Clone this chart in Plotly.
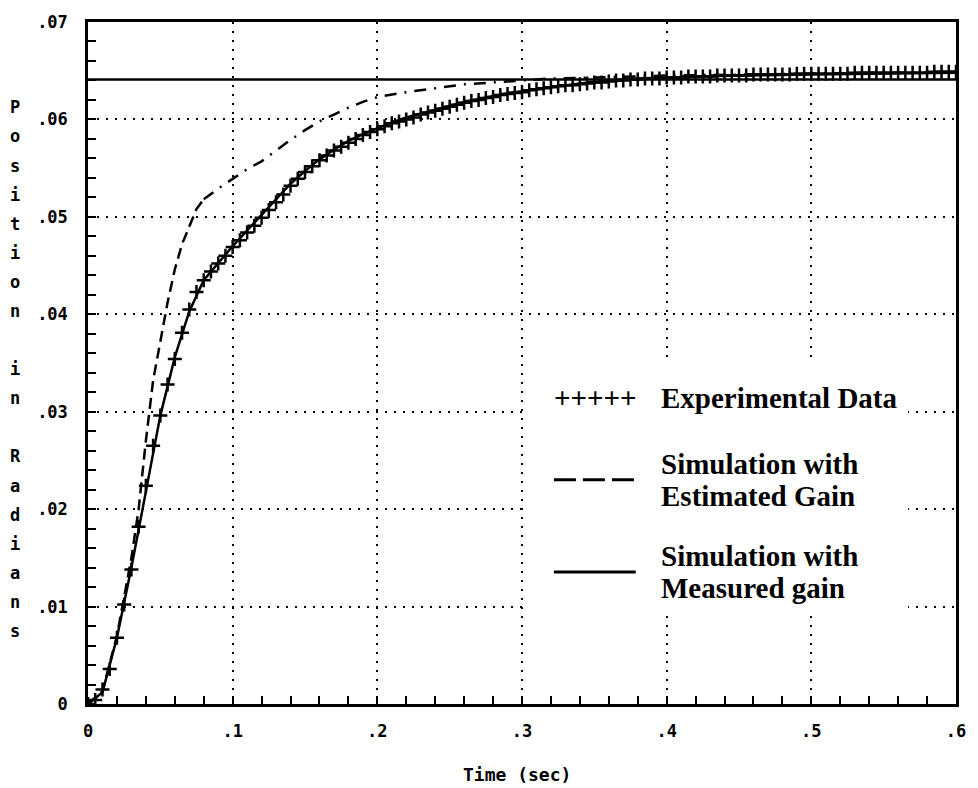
import plotly.graph_objects as go

# ---------------- data ----------------
exp_time = [
    0.000, 0.005, 0.010, 0.015, 0.020, 0.025, 0.030, 0.035, 0.040, 0.045,
    0.050, 0.055, 0.060, 0.065, 0.070, 0.075, 0.080, 0.085, 0.090, 0.095,
    0.100, 0.105, 0.110, 0.115, 0.120, 0.125, 0.130, 0.135, 0.140, 0.145,
    0.150, 0.155, 0.160, 0.165, 0.170, 0.175, 0.180, 0.185, 0.190, 0.195,
    0.200, 0.205, 0.210, 0.215, 0.220, 0.225, 0.230, 0.235, 0.240, 0.245,
    0.250, 0.255, 0.260, 0.265, 0.270, 0.275, 0.280, 0.285, 0.290, 0.295,
    0.300, 0.305, 0.310, 0.315, 0.320, 0.325, 0.330, 0.335, 0.340, 0.345,
    0.350, 0.355, 0.360, 0.365, 0.370, 0.375, 0.380, 0.385, 0.390, 0.395,
    0.400, 0.405, 0.410, 0.415, 0.420, 0.425, 0.430, 0.435, 0.440, 0.445,
    0.450, 0.455, 0.460, 0.465, 0.470, 0.475, 0.480, 0.485, 0.490, 0.495,
    0.500, 0.505, 0.510, 0.515, 0.520, 0.525, 0.530, 0.535, 0.540, 0.545,
    0.550, 0.555, 0.560, 0.565, 0.570, 0.575, 0.580, 0.585, 0.590, 0.595,
    0.600,
]
exp_position = [
    0.0000, 0.0004, 0.0015, 0.0036, 0.0068, 0.0102, 0.0138, 0.0182, 0.0224, 0.0265,
    0.0296, 0.0328, 0.0354, 0.0381, 0.0405, 0.0423, 0.0435, 0.0444, 0.0452, 0.0460,
    0.0469, 0.0476, 0.0484, 0.0491, 0.0499, 0.0507, 0.0515, 0.0523, 0.0532, 0.0539,
    0.0546, 0.0552, 0.0558, 0.0563, 0.0568, 0.0572, 0.0576, 0.0580, 0.0584, 0.0587,
    0.0590, 0.0593, 0.0596, 0.0598, 0.0600, 0.0602, 0.0605, 0.0607, 0.0609, 0.0611,
    0.0613, 0.0615, 0.0617, 0.0619, 0.0620, 0.0622, 0.0623, 0.0625, 0.0626, 0.0627,
    0.0628, 0.0630, 0.0631, 0.0632, 0.0633, 0.0634, 0.0635, 0.0635, 0.0636, 0.0637,
    0.0638, 0.0638, 0.0639, 0.0640, 0.0640, 0.0641, 0.0641, 0.0642, 0.0642, 0.0642,
    0.0643, 0.0643, 0.0643, 0.0644, 0.0644, 0.0644, 0.0644, 0.0645, 0.0645, 0.0645,
    0.0645, 0.0645, 0.0646, 0.0646, 0.0646, 0.0646, 0.0646, 0.0646, 0.0647, 0.0647,
    0.0647, 0.0647, 0.0647, 0.0647, 0.0647, 0.0647, 0.0648, 0.0648, 0.0648, 0.0648,
    0.0648, 0.0648, 0.0648, 0.0648, 0.0648, 0.0648, 0.0648, 0.0649, 0.0649, 0.0649,
    0.0649,
]

meas_time = [0.00, 0.01, 0.02, 0.03, 0.04, 0.05, 0.06, 0.07, 0.08, 0.09,
             0.10, 0.11, 0.12, 0.13, 0.14, 0.15, 0.16, 0.17, 0.18, 0.19,
             0.20, 0.21, 0.22, 0.23, 0.24, 0.25, 0.26, 0.27, 0.28, 0.29,
             0.30, 0.32, 0.34, 0.36, 0.38, 0.40, 0.45, 0.50, 0.55, 0.60]
meas_position = [0.0000, 0.0012, 0.0068, 0.0140, 0.0218, 0.0296, 0.0356, 0.0403, 0.0435, 0.0453,
                 0.0470, 0.0486, 0.0502, 0.0518, 0.0534, 0.0547, 0.0559, 0.0569, 0.0578, 0.0585,
                 0.0591, 0.0597, 0.0602, 0.0606, 0.0610, 0.0614, 0.0618, 0.0621, 0.0624, 0.0627,
                 0.0629, 0.0633, 0.0637, 0.0640, 0.0642, 0.0643, 0.0645, 0.0646, 0.0647, 0.0648]

est_time = [0.000, 0.010, 0.020, 0.030, 0.035, 0.040, 0.045, 0.050, 0.055, 0.060,
            0.065, 0.070, 0.075, 0.080, 0.090, 0.100, 0.110, 0.120, 0.130, 0.140,
            0.150, 0.160, 0.170, 0.180, 0.190, 0.200, 0.220, 0.240, 0.260, 0.280,
            0.300, 0.320, 0.350, 0.400, 0.450, 0.500, 0.550, 0.600]
est_position = [0.0000, 0.0013, 0.0070, 0.0150, 0.0200, 0.0270, 0.0332, 0.0374, 0.0412, 0.0446,
                0.0472, 0.0490, 0.0508, 0.0518, 0.0529, 0.0539, 0.0549, 0.0557, 0.0568, 0.0579,
                0.0589, 0.0598, 0.0605, 0.0612, 0.0618, 0.0623, 0.0628, 0.0632, 0.0636, 0.0638,
                0.0640, 0.0642, 0.0643, 0.0645, 0.0646, 0.0647, 0.0648, 0.0648]
est_dash_split = 13  # index where the dashed stroke changes to dash-dot

ref_time = [0.0, 0.6]
ref_position = [0.0641, 0.0641]

x_ticks = [0.0, 0.1, 0.2, 0.3, 0.4, 0.5, 0.6]
x_tick_labels = ["0", ".1", ".2", ".3", ".4", ".5", ".6"]
y_ticks = [0.00, 0.01, 0.02, 0.03, 0.04, 0.05, 0.06, 0.07]
y_tick_labels = ["0", ".01", ".02", ".03", ".04", ".05", ".06", ".07"]

y_title = "Position in Radians"
x_title = "Time (sec)"
legend_exp = "Experimental Data"
legend_est = ["Simulation with", "Estimated Gain"]
legend_meas = ["Simulation with", "Measured gain"]

# ---------------- layout geometry ----------------
W, H = 978, 788
L, R, T, B = 88, 958, 17, 704


def px(x):
    return (x - L) / (R - L)


def py(y):
    return (B - y) / (B - T)


MONO = "DejaVu Sans Mono"
SERIF = "Liberation Serif"

fig = go.Figure()

fig.add_trace(go.Scatter(x=ref_time, y=ref_position, mode="lines",
                         line=dict(color="black", width=2.5), showlegend=False))
fig.add_trace(go.Scatter(x=est_time[:est_dash_split + 1], y=est_position[:est_dash_split + 1],
                         mode="lines", line=dict(color="black", width=2.5, dash="11px,6px"),
                         showlegend=False))
fig.add_trace(go.Scatter(x=est_time[est_dash_split:], y=est_position[est_dash_split:],
                         mode="lines", line=dict(color="black", width=2.5, dash="12px,8px,2px,8px"),
                         showlegend=False))
fig.add_trace(go.Scatter(x=meas_time, y=meas_position, mode="lines",
                         line=dict(color="black", width=2.5), showlegend=False))
fig.add_trace(go.Scatter(x=exp_time, y=exp_position, mode="markers",
                         marker=dict(symbol="cross-thin", size=10, color="black",
                                     line=dict(color="black", width=2.5)),
                         showlegend=False))

axis_common = dict(
    showline=True, linecolor="black", linewidth=2.5, mirror=True,
    ticks="inside", ticklen=8, tickwidth=2, tickcolor="black",
    showgrid=True, gridcolor="black", gridwidth=1.5, griddash="2px,7px",
    zeroline=False, tickfont=dict(family=MONO, size=17, color="black", weight="bold"),
)

fig.update_xaxes(range=[0, 0.6], tickvals=x_ticks, ticktext=x_tick_labels,
                 minor=dict(dtick=0.02, ticks="inside", ticklen=8, tickwidth=2,
                            tickcolor="black", showgrid=False),
                 ticklabelstandoff=10, **axis_common)
fig.update_yaxes(range=[0, 0.07], tickvals=y_ticks, ticktext=y_tick_labels,
                 minor=dict(dtick=0.002, ticks="inside", ticklen=8, tickwidth=2,
                            tickcolor="black", showgrid=False),
                 ticklabelstandoff=14, **axis_common)

shapes = [
    dict(type="rect", xref="paper", yref="paper", x0=px(530), x1=px(910),
         y0=py(612), y1=py(355), fillcolor="white", line=dict(width=0), layer="above"),
    dict(type="line", xref="paper", yref="paper", x0=px(555), x1=px(637),
         y0=py(478), y1=py(478), line=dict(color="black", width=3, dash="22px,7px"), layer="above"),
    dict(type="line", xref="paper", yref="paper", x0=px(555), x1=px(637),
         y0=py(571), y1=py(571), line=dict(color="black", width=3), layer="above"),
]

annotations = []
# stacked y-axis title letters
i0, step = 103, 29.3
for i, ch in enumerate(y_title):
    if ch == " ":
        continue
    annotations.append(dict(text=ch, xref="paper", yref="paper", x=px(15), y=py(i0 + i * step),
                            xanchor="center", yanchor="middle", showarrow=False,
                            font=dict(family=MONO, size=17, color="black", weight="bold")))
annotations.append(dict(text=x_title, xref="paper", yref="paper", x=px(518), y=py(775),
                        xanchor="center", yanchor="middle", showarrow=False,
                        font=dict(family=MONO, size=18, color="black", weight="bold")))

serif_font = dict(family=SERIF, size=29, color="black", weight="bold")
legend_items = [
    ("+++++", 553, 396),
    (legend_exp, 660, 396),
    (legend_est[0], 660, 462),
    (legend_est[1], 660, 494),
    (legend_meas[0], 660, 555),
    (legend_meas[1], 660, 587),
]
for txt, xx, yy in legend_items:
    annotations.append(dict(text=txt, xref="paper", yref="paper", x=px(xx), y=py(yy),
                            xanchor="left", yanchor="middle", showarrow=False, font=serif_font))

fig.update_layout(
    width=W, height=H, margin=dict(l=L, r=W - R, t=T, b=H - B),
    paper_bgcolor="white", plot_bgcolor="white",
    shapes=shapes, annotations=annotations, showlegend=False,
)

fig.write_html("out.html", config={"displayModeBar": False})
